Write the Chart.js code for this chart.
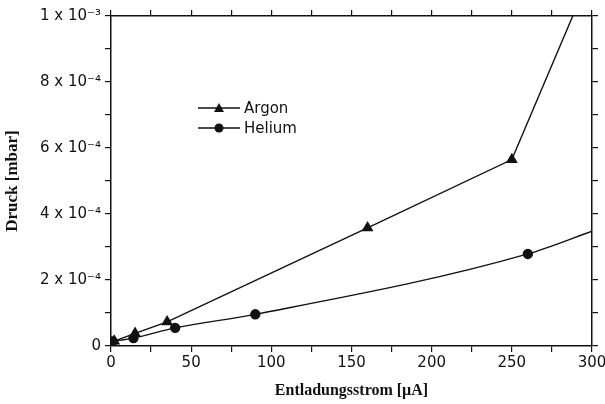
<!DOCTYPE html>
<html>
<head>
<meta charset="utf-8">
<script src="https://cdn.jsdelivr.net/npm/chart.js@4"></script>
<style>
  html, body { margin: 0; padding: 0; background: #fff; }
  #wrap { width: 605px; height: 404px; }
</style>
</head>
<body>
<div id="wrap"><canvas id="c"></canvas></div>
<script>
const argonX = [2, 15, 35, 160, 250, 288];
const argonY = [1.5e-5, 3.8e-5, 7.3e-5, 3.58e-4, 5.65e-4, 1.0e-3];
const argonMarks = [true, true, true, true, true, false];

const heliumX = [1, 14, 40, 90, 260, 300];
const heliumY = [1.4e-5, 2.4e-5, 5.5e-5, 9.6e-5, 2.79e-4, 3.48e-4];
const heliumMarks = [true, true, true, true, true, false];

const xLabels = ["0", "50", "100", "150", "200", "250", "300"];
const yLabels = ["0", "2 x 10⁻⁴", "4 x 10⁻⁴", "6 x 10⁻⁴", "8 x 10⁻⁴", "1 x 10⁻³"];

const SANS = "'DejaVu Sans', sans-serif";
const SERIF = "'Liberation Serif', serif";

const toPoints = (xs, ys) => xs.map((x, i) => ({ x, y: ys[i] }));

// no extra room for half-labels hanging over the plot edges
const noPad = (s) => {
  s.paddingLeft = 0;
  s.paddingRight = 0;
  s.paddingTop = 0;
  s.paddingBottom = 0;
};

const legendPlugin = {
  id: "inlineLegend",
  afterDraw(chart) {
    const ctx = chart.ctx;
    const area = chart.chartArea;
    const x0 = area.left + 87;
    const y0 = area.top + 92;
    chart.data.datasets.forEach((ds, i) => {
      const y = y0 + i * 20;
      ctx.save();
      ctx.strokeStyle = "#111";
      ctx.lineWidth = 1.3;
      ctx.beginPath();
      ctx.moveTo(x0, y);
      ctx.lineTo(x0 + 42, y);
      ctx.stroke();
      ctx.fillStyle = "#111";
      ctx.beginPath();
      if (ds.pointStyle === "triangle") {
        ctx.moveTo(x0 + 21, y - 5);
        ctx.lineTo(x0 + 26, y + 4);
        ctx.lineTo(x0 + 16, y + 4);
        ctx.closePath();
      } else {
        ctx.arc(x0 + 21, y, 4.5, 0, Math.PI * 2);
      }
      ctx.fill();
      ctx.font = "15px " + SANS;
      ctx.textBaseline = "middle";
      ctx.fillText(ds.label, x0 + 46, y + 1);
      ctx.restore();
    });
  },
};

const frameAxis = (pos, axis, size) => ({
  type: "linear",
  position: pos,
  axis: axis,
  min: 0,
  max: axis === "x" ? 300 : 1e-3,
  afterFit: (s) => {
    if (axis === "x") s.height = size; else s.width = size;
    noPad(s);
  },
  grid: { drawOnChartArea: false, color: "#111", tickLength: 6, lineWidth: 1.2 },
  border: { color: "#111", width: 1.5 },
  ticks: { stepSize: axis === "x" ? 25 : 1e-4, callback: () => "", padding: 0 },
});

new Chart(document.getElementById("c"), {
  type: "line",
  data: {
    datasets: [
      {
        label: "Argon",
        data: toPoints(argonX, argonY),
        borderColor: "#111",
        backgroundColor: "#111",
        borderWidth: 1.4,
        pointStyle: "triangle",
        pointRadius: argonMarks.map((m) => (m ? 5.5 : 0)),
        tension: 0,
      },
      {
        label: "Helium",
        data: toPoints(heliumX, heliumY),
        borderColor: "#111",
        backgroundColor: "#111",
        borderWidth: 1.4,
        pointStyle: "circle",
        pointRadius: heliumMarks.map((m) => (m ? 4.5 : 0)),
        cubicInterpolationMode: "monotone",
      },
    ],
  },
  options: {
    responsive: true,
    maintainAspectRatio: false,
    animation: false,
    layout: { padding: 0 },
    plugins: { legend: { display: false }, tooltip: { enabled: false } },
    scales: {
      x: {
        type: "linear",
        position: "bottom",
        min: 0,
        max: 300,
        afterFit: (s) => { s.height = 58; noPad(s); },
        grid: { drawOnChartArea: false, color: "#111", tickLength: 6, lineWidth: 1.2 },
        border: { color: "#111", width: 1.5 },
        ticks: {
          stepSize: 25,
          color: "#111",
          padding: 2,
          maxRotation: 0,
          autoSkip: false,
          font: { family: SANS, size: 15 },
          callback: (v) => (Math.round(v) % 50 === 0 ? xLabels[Math.round(v / 50)] : ""),
        },
        title: {
          display: true,
          text: "Entladungsstrom [µA]",
          color: "#111",
          font: { family: SERIF, size: 16, weight: "bold" },
          padding: { top: 4, bottom: 4 },
        },
      },
      y: {
        type: "linear",
        position: "left",
        min: 0,
        max: 1e-3,
        afterFit: (s) => { s.width = 111; noPad(s); },
        grid: { drawOnChartArea: false, color: "#111", tickLength: 6, lineWidth: 1.2 },
        border: { color: "#111", width: 1.5 },
        ticks: {
          stepSize: 1e-4,
          color: "#111",
          padding: 4,
          autoSkip: false,
          font: { family: SANS, size: 15 },
          callback: (v) => {
            const k = Math.round(v / 1e-4);
            return k % 2 === 0 ? yLabels[k / 2] : "";
          },
        },
        title: {
          display: true,
          text: "Druck [mbar]",
          color: "#111",
          font: { family: SERIF, size: 17, weight: "bold" },
          padding: { top: 2, bottom: 0 },
        },
      },
      x2: frameAxis("top", "x", 16),
      y2: frameAxis("right", "y", 13),
    },
  },
  plugins: [legendPlugin],
});
</script>
</body>
</html>
